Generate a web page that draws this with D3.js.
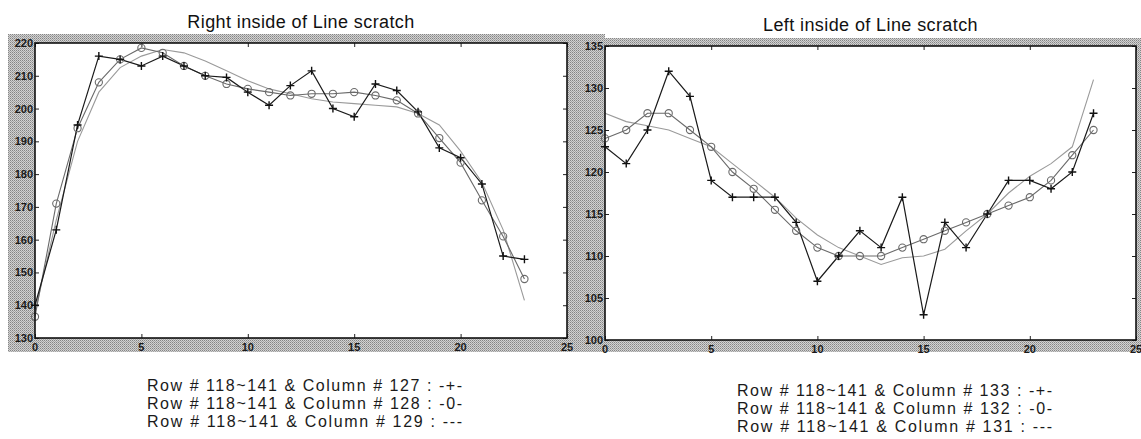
<!DOCTYPE html>
<html>
<head>
<meta charset="utf-8">
<script src="https://cdn.jsdelivr.net/npm/d3@7"></script>
<style>
  body { margin: 0; background: #fff; }
  text { font-family: "Liberation Sans", Arial, sans-serif; }
</style>
</head>
<body>
<svg id="chart" width="1141" height="439"></svg>
<script>
// index along the scan row
var idx = [0, 1, 2, 3, 4, 5, 6, 7, 8, 9, 10, 11, 12, 13, 14, 15, 16, 17, 18, 19, 20, 21, 22, 23];
var xTicks = [0, 5, 10, 15, 20, 25];

// Right inside of Line scratch (columns 127, 128, 129)
var rightPlus   = [140, 163, 195, 216, 215, 213, 216, 213, 210, 209.5, 205, 201, 207, 211.5, 200, 197.5, 207.5, 205.5, 199, 188, 185, 177, 155, 154];
var rightCircle = [136.5, 171, 194, 208, 215, 218.5, 217, 213, 210, 207.5, 206, 205, 204, 204.5, 204.5, 205, 204, 202.5, 198.5, 191, 183.5, 172, 161, 148];
var rightPlain  = [138, 166, 190, 205, 212.5, 216, 218, 217, 214.5, 211.5, 208.5, 206, 204.5, 203, 202, 201.5, 201, 200.5, 198.5, 195, 187, 177.5, 163, 141.5];
var rightYTicks = [130, 140, 150, 160, 170, 180, 190, 200, 210, 220];
var rightLegend = ["Row # 118~141 & Column # 127 : -+-", "Row # 118~141 & Column # 128 : -0-", "Row # 118~141 & Column # 129 : ---"];

// Left inside of Line scratch (columns 133, 132, 131)
var leftPlus   = [123, 121, 125, 132, 129, 119, 117, 117, 117, 114, 107, 110, 113, 111, 117, 103, 114, 111, 115, 119, 119, 118, 120, 127];
var leftCircle = [124, 125, 127, 127, 125, 123, 120, 118, 115.5, 113, 111, 110, 110, 110, 111, 112, 113, 114, 115, 116, 117, 119, 122, 125];
var leftPlain  = [127, 126, 125.5, 125, 124, 123, 121, 119, 117, 114.5, 112.5, 111, 110, 109, 109.8, 110, 110.8, 113, 115, 117.5, 119.5, 121, 123, 131];
var leftYTicks = [100, 105, 110, 115, 120, 125, 130, 135];
var leftLegend = ["Row # 118~141 & Column # 133 : -+-", "Row # 118~141 & Column # 132 : -0-", "Row # 118~141 & Column # 131 : ---"];

var svg = d3.select("#chart");

// halftone-like grey for the figure background
var defs = svg.append("defs");
var pat = defs.append("pattern")
    .attr("id", "dither")
    .attr("width", 2).attr("height", 2)
    .attr("patternUnits", "userSpaceOnUse");
pat.append("rect").attr("width", 2).attr("height", 2).attr("fill", "#d2d2d2");
pat.append("rect").attr("width", 1).attr("height", 1).attr("fill", "#858585");
pat.append("rect").attr("x", 1).attr("y", 1).attr("width", 1).attr("height", 1).attr("fill", "#a4a4a4");

var panels = [
    {
        title: "Right inside of Line scratch", titleY: 28,
        x0: 35, x1: 567, y0: 43, y1: 338,
        yDomain: [130, 220], yTicks: rightYTicks,
        bg: [8, 34, 597, 318],
        plus: rightPlus, circle: rightCircle, plain: rightPlain,
        legend: rightLegend, legendX: 147, legendY: 391
    },
    {
        title: "Left inside of Line scratch", titleY: 31,
        x0: 605, x1: 1136, y0: 46, y1: 340,
        yDomain: [100, 135], yTicks: leftYTicks,
        bg: [567, 38, 574, 314],
        plus: leftPlus, circle: leftCircle, plain: leftPlain,
        legend: leftLegend, legendX: 737, legendY: 396
    }
];

// grey figure backgrounds first, so no panel covers another one's labels
var bgLayer = svg.append("g");
panels.forEach(function (opt) {
    bgLayer.append("rect")
        .attr("x", opt.bg[0]).attr("y", opt.bg[1])
        .attr("width", opt.bg[2]).attr("height", opt.bg[3])
        .attr("fill", "url(#dither)");
});
panels.forEach(function (opt) {
    bgLayer.append("rect")
        .attr("x", opt.x0).attr("y", opt.y0)
        .attr("width", opt.x1 - opt.x0).attr("height", opt.y1 - opt.y0)
        .attr("fill", "#fff");
});

function drawPanel(opt) {
    var x = d3.scaleLinear().domain([0, 25]).range([opt.x0, opt.x1]);
    var y = d3.scaleLinear().domain(opt.yDomain).range([opt.y1, opt.y0]);
    var g = svg.append("g");

    g.append("text")
        .attr("x", (opt.x0 + opt.x1) / 2).attr("y", opt.titleY)
        .attr("text-anchor", "middle")
        .attr("font-size", 18)
        .attr("letter-spacing", 0.4)
        .attr("fill", "#111")
        .text(opt.title);

    // ticks on all four sides, pointing in (box on)
    g.append("g").attr("transform", "translate(0," + opt.y1 + ")")
        .call(d3.axisTop(x).tickValues(xTicks).tickSize(4).tickFormat(""));
    g.append("g").attr("transform", "translate(0," + opt.y0 + ")")
        .call(d3.axisBottom(x).tickValues(xTicks).tickSize(4).tickFormat(""));
    g.append("g").attr("transform", "translate(" + opt.x0 + ",0)")
        .call(d3.axisRight(y).tickValues(opt.yTicks).tickSize(4).tickFormat(""));
    g.append("g").attr("transform", "translate(" + opt.x1 + ",0)")
        .call(d3.axisLeft(y).tickValues(opt.yTicks).tickSize(4).tickFormat(""));
    g.selectAll(".domain").remove();
    g.selectAll(".tick line").attr("stroke", "#222");

    // tick labels on the grey band
    g.append("g").selectAll("text")
        .data(opt.yTicks).enter().append("text")
        .attr("x", opt.x0 - 2).attr("y", function (d) { return y(d) + 4; })
        .attr("text-anchor", "end")
        .attr("font-size", 11).attr("font-weight", "bold")
        .attr("fill", "#1a1a1a")
        .text(function (d) { return d; });
    g.append("g").selectAll("text")
        .data(xTicks).enter().append("text")
        .attr("x", function (d) { return x(d); }).attr("y", opt.y1 + 13)
        .attr("text-anchor", "middle")
        .attr("font-size", 11).attr("font-weight", "bold")
        .attr("fill", "#1a1a1a")
        .text(function (d) { return d; });

    var line = function (vals) {
        return d3.line()
            .x(function (d) { return x(d); })
            .y(function (d, i) { return y(vals[i]); })(idx);
    };

    var plot = g.append("g");
    plot.append("path").attr("d", line(opt.plain))
        .attr("fill", "none").attr("stroke", "#9a9a9a").attr("stroke-width", 1.1);
    plot.append("path").attr("d", line(opt.circle))
        .attr("fill", "none").attr("stroke", "#6a6a6a").attr("stroke-width", 1.1);
    plot.append("path").attr("d", line(opt.plus))
        .attr("fill", "none").attr("stroke", "#1a1a1a").attr("stroke-width", 1.2);

    plot.selectAll("circle")
        .data(idx).enter().append("circle")
        .attr("cx", function (d) { return x(d); })
        .attr("cy", function (d, i) { return y(opt.circle[i]); })
        .attr("r", 3.6)
        .attr("fill", "none").attr("stroke", "#6a6a6a").attr("stroke-width", 1.1);

    plot.selectAll(".plus")
        .data(idx).enter().append("path")
        .attr("class", "plus")
        .attr("d", function (d, i) {
            var px = x(d), py = y(opt.plus[i]);
            return "M" + (px - 4) + "," + py + "H" + (px + 4) + "M" + px + "," + (py - 4) + "V" + (py + 4);
        })
        .attr("stroke", "#111").attr("stroke-width", 1.4);

    // axes box
    g.append("rect")
        .attr("x", opt.x0).attr("y", opt.y0)
        .attr("width", opt.x1 - opt.x0).attr("height", opt.y1 - opt.y0)
        .attr("fill", "none").attr("stroke", "#111").attr("stroke-width", 1.6);

    // line-style notes under the panel
    g.append("g").selectAll("text")
        .data(opt.legend).enter().append("text")
        .attr("x", opt.legendX)
        .attr("y", function (d, i) { return opt.legendY + i * 18; })
        .attr("font-size", 16)
        .attr("textLength", 315).attr("lengthAdjust", "spacing")
        .attr("fill", "#1a1a1a")
        .text(function (d) { return d; });
}

panels.forEach(drawPanel);
</script>
</body>
</html>
